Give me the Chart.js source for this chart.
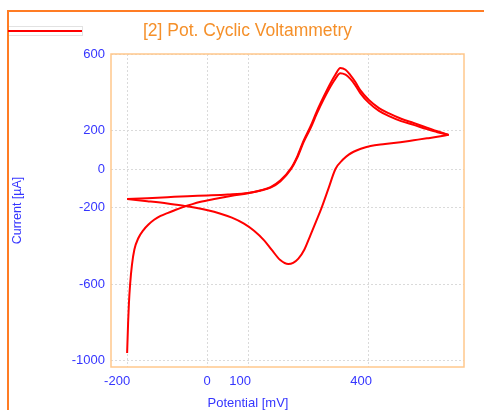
<!DOCTYPE html>
<html>
<head>
<meta charset="utf-8">
<script src="https://cdn.jsdelivr.net/npm/chart.js@4.4.1/dist/chart.umd.min.js"></script>
<style>
	html, body { margin: 0; padding: 0; background: #fff; overflow: hidden; }
	#wrap { position: relative; width: 484px; height: 410px; overflow: hidden; }
	#frame {
		position: absolute; left: 7px; top: 10px; width: 700px; height: 700px;
		border-left: 2px solid #ff7c24; border-top: 2px solid #ff7c24;
	}
	#legend {
		position: absolute; left: 9px; top: 26px; width: 73px; height: 8px;
		border: 1px solid #e2e2e2; border-left: none;
	}
	#legend span { position: absolute; left: -1px; right: 0; top: 3px; height: 2px; background: #ff0000; }
	canvas { position: absolute; left: 0; top: 0; }
</style>
</head>
<body>
<div id="wrap">
	<div id="frame"></div>
	<canvas id="chart" width="484" height="410"></canvas>
	<div id="legend"><span></span></div>
</div>
<script>
// first sweep: start at -200 mV, then the anodic branch of cycle 1
const SWEEP1_E = [-200, -197.5, -195.5, -192.5, -188, -182, -172, -160, -147, -133, -117, -100, -82, -63, -45, -20, 20, 60, 100,
	130, 156, 180, 207, 222, 238, 255, 271, 288, 304, 317, 329, 342, 354, 366, 379, 400, 425, 450, 480, 511, 544, 570, 598];
const SWEEP1_I = [-960, -800, -700, -600, -500, -420, -360, -320, -290, -265, -245, -230, -215, -200, -188, -172, -155, -140, -127,
	-112, -94, -60, 5, 65, 148, 222, 302, 378, 445, 493, 527, 518, 490, 455, 410, 360, 318, 290, 262, 240, 216, 197, 178];

// cathodic return from the +600 mV vertex
const RETURN_E = [598, 570, 544, 511, 478, 440, 404, 380, 362, 350, 335, 317, 300, 283, 270, 255, 240, 225, 212, 200, 180, 160,
	140, 115, 90, 60, 30, 0, -30, -60, -100, -150, -200];
const RETURN_I = [178, 168, 160, 150, 140, 130, 120, 106, 90, 75, 48, 0, -100, -200, -268, -345, -420, -468, -490, -496, -475, -425,
	-372, -322, -285, -254, -232, -215, -202, -192, -180, -168, -157];

// anodic branch of cycle 2
const SWEEP2_E = [-200, -150, -100, -50, 0, 50, 100, 130, 156, 180, 207, 222, 238, 255, 271, 288, 304, 317, 329, 342, 354, 366,
	379, 400, 425, 450, 480, 511, 544, 570, 598];
const SWEEP2_I = [-157, -152, -147, -142, -138, -133, -125, -113, -97, -65, 0, 58, 140, 212, 290, 365, 428, 472, 500, 492, 470, 438,
	395, 345, 303, 276, 250, 230, 208, 192, 178];

const X_TICKS = [-200, 0, 100, 400];
const Y_TICKS = [600, 200, 0, -200, -600, -1000];

const TITLE = '[2] Pot. Cyclic Voltammetry';
const X_TITLE = 'Potential [mV]';
const Y_TITLE = 'Current [µA]';

const FONT = '"Liberation Sans", Arial, sans-serif';
const BLUE = '#3535ff';
const ORANGE = '#f5902a';
const PLOT_BORDER = '#ffc88c';
const GRID = '#dadada';

const toPoints = (e, i) => e.map((x, k) => ({ x, y: i[k] }));

const line = (data) => ({
	data,
	showLine: true,
	borderColor: '#ff0000',
	backgroundColor: '#ff0000',
	borderWidth: 2,
	pointRadius: 0,
	cubicInterpolationMode: 'monotone',
	fill: false
});

const plotFrame = {
	id: 'plotFrame',
	beforeDatasetsDraw(chart) {
		const { ctx, chartArea: a } = chart;
		ctx.save();
		ctx.strokeStyle = PLOT_BORDER;
		ctx.lineWidth = 1.5;
		ctx.strokeRect(a.left, a.top, a.right - a.left, a.bottom - a.top);
		ctx.restore();
	}
};

// the x title sits left of the plot centre in the original
const xTitle = {
	id: 'xTitle',
	afterDraw(chart) {
		const ctx = chart.ctx;
		ctx.save();
		ctx.font = '13px ' + FONT;
		ctx.fillStyle = BLUE;
		ctx.textAlign = 'center';
		ctx.textBaseline = 'alphabetic';
		ctx.fillText(X_TITLE, 248, 407);
		ctx.restore();
	}
};

const canvas = document.getElementById('chart');
new Chart(canvas.getContext('2d'), {
	type: 'scatter',
	data: {
		datasets: [
			line(toPoints(SWEEP1_E, SWEEP1_I)),
			line(toPoints(RETURN_E, RETURN_I)),
			line(toPoints(SWEEP2_E, SWEEP2_I))
		]
	},
	options: {
		responsive: false,
		animation: false,
		layout: { padding: { left: 31, right: 20, top: 0, bottom: 0 } },
		plugins: {
			legend: { display: false },
			tooltip: { enabled: false },
			title: {
				display: true,
				text: TITLE,
				color: ORANGE,
				font: { family: FONT, size: 17.5, weight: 'normal' },
				padding: { top: 21, bottom: 12 }
			}
		},
		scales: {
			x: {
				type: 'linear',
				min: -240,
				max: 636,
				afterBuildTicks: s => { s.ticks = X_TICKS.map(v => ({ value: v })); },
				afterFit: s => { s.height = 43; },
				grid: { color: GRID, lineWidth: 1, drawTicks: false },
				border: { display: false, dash: [2, 2] },
				ticks: {
					color: BLUE,
					font: { family: FONT, size: 13 },
					padding: 7,
					align: 'end',
					labelOffset: 3,
					autoSkip: false,
					maxRotation: 0,
					callback: v => String(v)
				},
				title: { display: false, text: X_TITLE }
			},
			y: {
				type: 'linear',
				min: -1033,
				max: 600,
				afterBuildTicks: s => { s.ticks = Y_TICKS.map(v => ({ value: v })); },
				afterFit: s => { s.width = 80; },
				grid: { color: GRID, lineWidth: 1, drawTicks: false },
				border: { display: false, dash: [2, 2] },
				ticks: {
					color: BLUE,
					font: { family: FONT, size: 13 },
					padding: 6,
					autoSkip: false,
					callback: v => String(v)
				},
				title: {
					display: true,
					text: Y_TITLE,
					color: BLUE,
					font: { family: FONT, size: 12.5 },
					padding: { top: -21, bottom: 0 }
				}
			}
		}
	},
	plugins: [plotFrame, xTitle]
});
</script>
</body>
</html>
